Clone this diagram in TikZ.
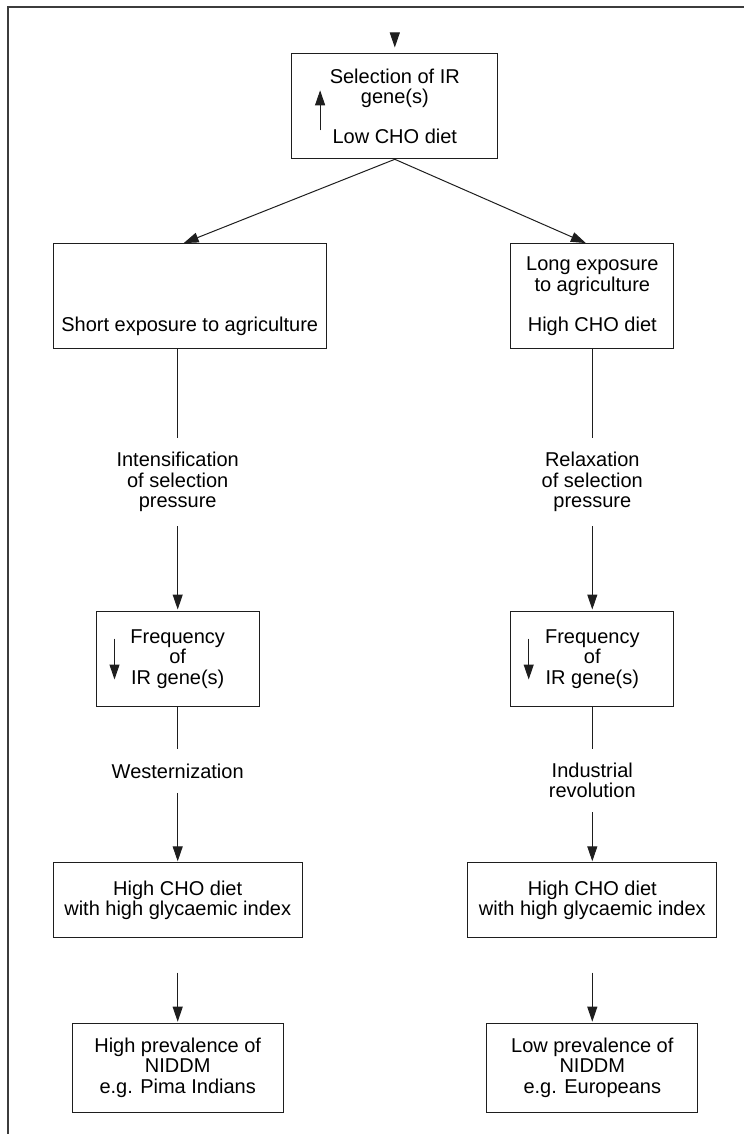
\documentclass[tikz,border=0pt]{standalone}
\usepackage{fontspec}
\setmainfont{Liberation Sans}
\usepackage{tikz}
\usetikzlibrary{arrows.meta, calc}
\definecolor{boxgrey}{RGB}{30,30,30}
\definecolor{framegrey}{RGB}{60,60,60}

\begin{document}
\begin{tikzpicture}[x=0.5pt, y=-0.5pt,
      stage/.style={rectangle, draw=boxgrey, line width=0.5pt, align=center, inner sep=3pt, font=\fontsize{10}{10.2}\selectfont},
      cause/.style={align=center, inner xsep=2pt, inner ysep=7pt, font=\fontsize{10}{10.2}\selectfont},
      link/.style={draw=boxgrey, line width=0.5pt},
      flow/.style={link, -{Triangle[length=7.5pt, width=5pt]}, shorten >=0.5pt},
      frame/.style={draw=framegrey, line width=0.85pt}
    ]
      \useasboundingbox (0,0) rectangle (744,1134);
      \draw[frame] (8.3,1134) -- (8.3,7) -- (744,7);

      \node[stage, minimum width=102.9pt, minimum height=52.5pt] (Sel) at (394.8,106.3) {Selection of IR\\gene(s)\\[9.5pt]Low CHO diet};

      \node[stage, minimum width=136.4pt, minimum height=52.2pt] (Short) at (189.7,296.2) {\vphantom{Long}\\\vphantom{to}\\[10pt]Short exposure to agriculture};
      \node[stage, minimum width=81.5pt, minimum height=52.2pt] (Long) at (592.3,296.2) {Long exposure\\to agriculture\\[10pt]High CHO diet};

      \node[cause] (IntL) at (177.7,482.2) {Intensification\\of selection\\pressure};
      \node[cause] (RelR) at (592.3,482.2) {Relaxation\\of selection\\pressure};

      \node[stage, minimum width=81.4pt, minimum height=47.8pt] (FreqL) at (177.7,658.8) {Frequency\\of\\IR gene(s)};
      \node[stage, minimum width=81.4pt, minimum height=47.8pt] (FreqR) at (592.3,658.8) {Frequency\\of\\IR gene(s)};

      \node[cause] (West) at (177.7,771.2) {Westernization};
      \node[cause] (Ind) at (592.3,780.5) {Industrial\\revolution};

      \node[stage, minimum width=124.4pt, minimum height=37.5pt] (DietL) at (177.7,900.3) {High CHO diet\\with high glycaemic index};
      \node[stage, minimum width=124.4pt, minimum height=37.5pt] (DietR) at (592.3,900.3) {High CHO diet\\with high glycaemic index};

      \node[stage, minimum width=105.4pt, minimum height=44.4pt] (PrevL) at (177.7,1067.6) {High prevalence of\\NIDDM\\e.g. Pima Indians};
      \node[stage, minimum width=105.4pt, minimum height=44.4pt] (PrevR) at (592.3,1067.6) {Low prevalence of\\NIDDM\\e.g. Europeans};

      \coordinate (In) at (394.8,33);
      \coordinate (GapL) at (177.7,972.6);
      \coordinate (GapR) at (592.3,972.6);

      \draw[flow, shorten >=2.9pt] (In) -- (Sel);
      \draw[flow] (Sel.south) -- ($(Short.north)+(-7,0)$);
      \draw[flow] (Sel.south) -- ($(Long.north)+(-5.5,0)$);

      \draw[link] (Short.south -| IntL) -- (IntL);
      \draw[flow] (IntL) -- (FreqL);
      \draw[link] (FreqL) -- (West);
      \draw[flow] (West) -- (DietL);
      \draw[flow] (GapL) -- (PrevL);

      \draw[link] (Long) -- (RelR);
      \draw[flow] (RelR) -- (FreqR);
      \draw[link] (FreqR) -- (Ind);
      \draw[flow] (Ind) -- (DietR);
      \draw[flow] (GapR) -- (PrevR);

      \draw[flow, shorten >=0pt] ($(Sel.south west)+(28.7,-29)$) -- ++(0,-40);
      \draw[flow, shorten >=0pt] ($(FreqL.north west)+(18.7,28)$) -- ++(0,41);
      \draw[flow, shorten >=0pt] ($(FreqR.north west)+(18.3,28)$) -- ++(0,41);
    \end{tikzpicture}
\end{document}
